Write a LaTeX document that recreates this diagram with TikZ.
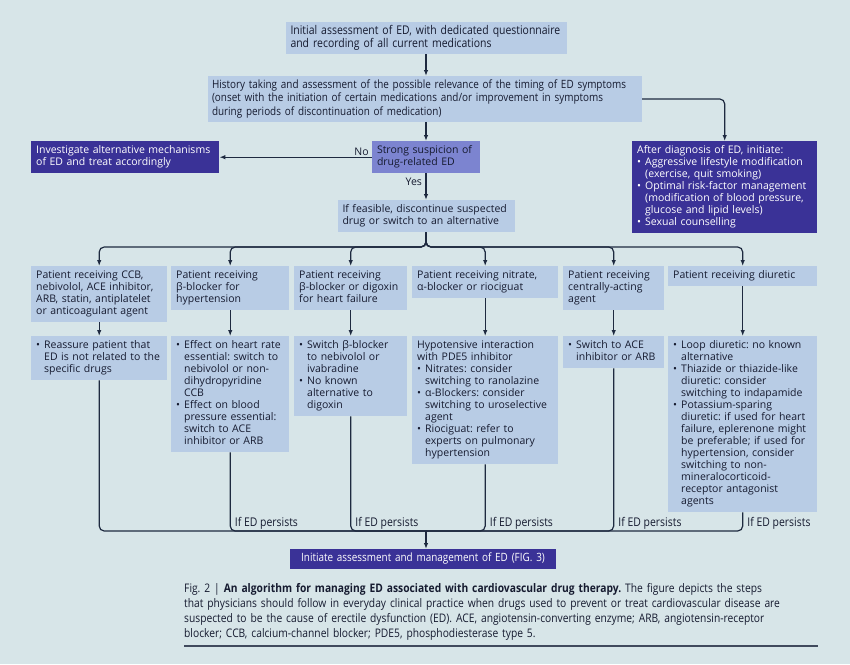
\documentclass[tikz,border=0pt]{standalone}
\usepackage{fontspec}
\setmainfont{Open Sans}
\newfontfamily\condfont[FakeStretch=0.87]{Open Sans}
\usetikzlibrary{arrows.meta}
\frenchspacing

\definecolor{bgc}{HTML}{D7E5E8}
\definecolor{lightc}{HTML}{B8CCE5}
\definecolor{darkc}{HTML}{3A3297}
\definecolor{midc}{HTML}{7C84D0}
\definecolor{linec}{HTML}{1E2A40}
\definecolor{textc}{HTML}{161B30}

\newcommand{\bul}[1]{\hangindent=8pt\hangafter=1\makebox[8pt][l]{\textbullet}#1\strut\par}

\begin{document}
\begin{tikzpicture}[x=1pt,y=-1pt,
    box/.style={fill=lightc, text=textc, align=left, inner xsep=5pt, inner ysep=4pt,
        font=\fontsize{10.5}{12}\selectfont,
        execute at begin node={\parindent=0pt\strut}, execute at end node={\ifhmode\strut\fi}},
    dbox/.style={box, fill=darkc, text=white},
    cbox/.style={box, font=\condfont\fontsize{12}{13.5}\selectfont, inner ysep=2.5pt},
    lbl/.style={font=\fontsize{10.5}{12}\selectfont, text=textc, inner sep=1.5pt},
    persist/.style={font=\condfont\fontsize{12}{13.5}\selectfont, text=textc, inner sep=1.5pt, anchor=south west, xshift=3pt},
    conn/.style={draw=linec, line width=1.2pt},
    arr/.style={conn, -{Latex[length=6pt,width=4.5pt]}}]

    \fill[bgc] (0,0) rectangle (850,664);
    \useasboundingbox (0,0) rectangle (850,664);

    % Assessment
    \node[cbox, text width=271pt, anchor=north] (init) at (426,22) {Initial assessment of ED, with dedicated questionnaire\\and recording of all current medications};
    \node[cbox, font=\condfont\fontsize{11.4}{13.5}\selectfont, text width=426pt, inner xsep=4pt, anchor=north] (hist) at (425,76) {History taking and assessment of the possible relevance of the timing of ED symptoms\\(onset with the initiation of certain medications and/or improvement in symptoms\\during periods of discontinuation of medication)};

    % Decision
    \node[box, fill=midc, text width=98pt, anchor=north] (susp) at (426,141) {Strong suspicion of\\drug-related ED};
    \node[dbox, text width=178pt, anchor=north west] (alt) at (31,141) {Investigate alternative mechanisms\\of ED and treat accordingly};
    \node[dbox, text width=175pt, anchor=north west] (life) at (632,141) {After diagnosis of ED, initiate:\par
        \bul{Aggressive lifestyle modification\newline (exercise, quit smoking)}
        \bul{Optimal risk-factor management\newline (modification of blood pressure,\newline glucose and lipid levels)}
        \bul{Sexual counselling}};
    \node[box, text width=167pt, anchor=north] (feas) at (426,200) {If feasible, discontinue suspected\\drug or switch to an alternative};

    % Drug classes
    \node[box, text width=126pt, anchor=north west] (ccb) at (31,266) {Patient receiving CCB,\\nebivolol, ACE inhibitor,\\ARB, statin, antiplatelet\\or anticoagulant agent};
    \node[box, text width=108pt, anchor=north west] (bbh) at (171,266) {Patient receiving\\β-blocker for\\hypertension};
    \node[box, text width=103pt, anchor=north west] (bbf) at (294,266) {Patient receiving\\β-blocker or digoxin\\for heart failure};
    \node[box, text width=136pt, anchor=north west] (nit) at (412,266) {Patient receiving nitrate,\\α-blocker or riociguat};
    \node[box, text width=91pt, anchor=north west] (cen) at (563,266) {Patient receiving\\centrally-acting\\agent};
    \node[box, text width=139pt, anchor=north west] (diu) at (668,266) {Patient receiving diuretic};

    % Actions
    \node[box, text width=126pt, anchor=north west] (ccb2) at (31,336) {\bul{Reassure patient that\newline ED is not related to the\newline specific drugs}};
    \node[box, text width=108pt, anchor=north west] (bbh2) at (171,336) {\bul{Effect on heart rate\newline essential: switch to\newline nebivolol or non-\newline dihydropyridine\newline CCB}
        \bul{Effect on blood\newline pressure essential:\newline switch to ACE\newline inhibitor or ARB}};
    \node[box, text width=103pt, anchor=north west] (bbf2) at (294,336) {\bul{Switch β-blocker\newline to nebivolol or\newline ivabradine}
        \bul{No known\newline alternative to\newline digoxin}};
    \node[box, text width=136pt, anchor=north west] (nit2) at (412,336) {Hypotensive interaction\\with PDE5 inhibitor\par
        \bul{Nitrates: consider\newline switching to ranolazine}
        \bul{α-Blockers: consider\newline switching to uroselective\newline agent}
        \bul{Riociguat: refer to\newline experts on pulmonary\newline hypertension}};
    \node[box, text width=91pt, anchor=north west] (cen2) at (563,336) {\bul{Switch to ACE\newline inhibitor or ARB}};
    \node[box, text width=139pt, anchor=north west] (diu2) at (668,336) {\bul{Loop diuretic: no known\newline alternative}
        \bul{Thiazide or thiazide-like\newline diuretic: consider\newline switching to indapamide}
        \bul{Potassium-sparing\newline diuretic: if used for heart\newline failure, eplerenone might\newline be preferable; if used for\newline hypertension, consider\newline switching to non-\newline mineralocorticoid-\newline receptor antagonist\newline agents}};

    % Management
    \node[cbox, font=\condfont\fontsize{11.4}{13.5}\selectfont, fill=darkc, text=white, align=center, text width=256pt, inner ysep=3.25pt, anchor=north] (fin) at (423,549) {Initiate assessment and management of ED (FIG. 3)};

    \coordinate (busT) at (426,247);
    \coordinate (busB) at (426,531);

    % Connectors
    \draw[arr] (init) -- (init |- hist.north);
    \draw[arr] (susp |- hist.south) -- (susp);
    \draw[arr, rounded corners=5pt] (hist.east) -| (life.north);
    \draw[arr] (susp) -- node[lbl, pos=0, above left, xshift=-1pt] {No} (alt);
    \draw[arr] (susp) -- node[lbl, pos=0.3, left, xshift=-2pt] {Yes} (feas);
    \foreach \p in {ccb,bbh,bbf,nit,cen,diu} {
        \draw[arr, rounded corners=5pt] (feas.south) |- (\p.north |- busT) -- (\p.north);
        \draw[arr] (\p) -- (\p2);
        \draw[conn, rounded corners=5pt] (\p2.south) |- (busB);
    }
    \foreach \p in {bbh,bbf,nit,cen,diu}
        \node[persist] (ped\p) at (\p2.south |- busB) {If ED persists};
    \draw[arr] (busB) -- (busB |- fin.north);

    % Caption
    \node[anchor=north west, text width=650pt, align=left, inner sep=0pt, text=textc,
        font=\condfont\fontsize{11.8}{15}\selectfont] (cap) at (184,583)
        {Fig. 2 | \textbf{An algorithm for managing ED associated with cardiovascular drug therapy.} The figure depicts the steps\\that physicians should follow in everyday clinical practice when drugs used to prevent or treat cardiovascular disease are\\suspected to be the cause of erectile dysfunction (ED). ACE, angiotensin-converting enzyme; ARB, angiotensin-receptor\\blocker; CCB, calcium-channel blocker; PDE5, phosphodiesterase type 5.};
    \draw[draw=linec!85, line width=1.3pt] (184,646) -- (818,646);
\end{tikzpicture}
\end{document}
